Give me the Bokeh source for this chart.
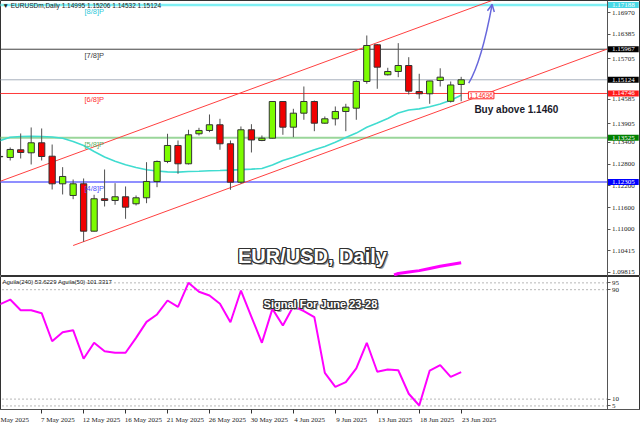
import numpy as np
from bokeh.plotting import figure
from bokeh.models import (ColumnDataSource, Range1d, FixedTicker, Label,
                          Arrow, OpenHead, NumeralTickFormatter)
from bokeh.layouts import column
from bokeh.embed import file_html
from bokeh.resources import INLINE

# ---------------- data ----------------
bars = list(range(45))
opens = [1.13000, 1.12981, 1.13193, 1.13110, 1.13386, 1.13016, 1.12255, 1.11933, 1.12255, 1.10948,
         1.11842, 1.11795, 1.11897, 1.11704, 1.11869, 1.12319, 1.12871, 1.13312, 1.12807, 1.13635,
         1.13726, 1.13883, 1.13359, 1.12300, 1.13745, 1.13450, 1.13513, 1.14525, 1.13817, 1.14203,
         1.14525, 1.13927, 1.14048, 1.14250, 1.14341, 1.15077, 1.16089, 1.15262, 1.15353, 1.15518,
         1.14801, 1.14738, 1.15105, 1.14531, 1.14995]
highs = [1.13050, 1.13257, 1.13643, 1.13809, 1.13781, 1.13339, 1.12714, 1.12374, 1.12402, 1.11952,
         1.12650, 1.12272, 1.12181, 1.11933, 1.12851, 1.12898, 1.13635, 1.13450, 1.13745, 1.13800,
         1.14167, 1.14048, 1.13450, 1.13836, 1.13899, 1.13588, 1.14530, 1.14530, 1.14324, 1.14939,
         1.14553, 1.14112, 1.14388, 1.14462, 1.15105, 1.16346, 1.16110, 1.15455, 1.16134, 1.15747,
         1.15290, 1.15095, 1.15441, 1.15077, 1.15206]
lows = [1.12980, 1.12898, 1.12953, 1.12788, 1.12898, 1.12098, 1.11961, 1.11831, 1.10655, 1.10940,
        1.11629, 1.11676, 1.11290, 1.11657, 1.11720, 1.12162, 1.12824, 1.12531, 1.12788, 1.13588,
        1.13679, 1.13193, 1.12090, 1.12255, 1.13119, 1.13430, 1.13505, 1.13607, 1.13541, 1.14021,
        1.13706, 1.13910, 1.13864, 1.13706, 1.14021, 1.15014, 1.14876, 1.15243, 1.15196, 1.14719,
        1.14600, 1.14462, 1.14939, 1.14498, 1.14532]
closes = [1.13010, 1.13202, 1.13119, 1.13386, 1.13008, 1.12255, 1.12457, 1.12255, 1.10948, 1.11842,
          1.11795, 1.11897, 1.11610, 1.11869, 1.12319, 1.12871, 1.13312, 1.12807, 1.13607, 1.13726,
          1.13883, 1.13359, 1.12300, 1.13745, 1.13464, 1.13513, 1.14525, 1.13817, 1.14203, 1.14525,
          1.13927, 1.14048, 1.14250, 1.14368, 1.15077, 1.16070, 1.15472, 1.15353, 1.15518, 1.14810,
          1.14738, 1.15091, 1.15196, 1.14981, 1.15124]
ma_values = [1.13444, 1.13538, 1.13560, 1.13568, 1.13560, 1.13544, 1.13511, 1.13422, 1.13312, 1.13147,
             1.12995, 1.12876, 1.12780, 1.12705, 1.12642, 1.12609, 1.12584, 1.12576, 1.12595, 1.12603,
             1.12614, 1.12622, 1.12633, 1.12647, 1.12661, 1.12677, 1.12774, 1.12898, 1.12986, 1.13091,
             1.13193, 1.13284, 1.13400, 1.13530, 1.13654, 1.13814, 1.13932, 1.14057, 1.14208, 1.14291,
             1.14321, 1.14382, 1.14457, 1.14560, 1.14696]
aguila240 = [79.2, 82.8, 75.0, 75.0, 72.8, 52.3, 58.9, 60.4, 39.5, 51.2,
             45.0, 43.9, 43.9, 54.8, 66.5, 71.9, 82.1, 77.5, 95.0, 88.5,
             85.8, 79.7, 66.2, 89.4, 70.2, 51.2, 76.0, 63.8, 77.9, 74.3,
             69.9, 29.2, 19.0, 22.4, 32.4, 51.2, 30.0, 31.6, 31.1, 13.9,
             5.3, 30.9, 34.8, 26.3, 29.7]
aguila50_bars = [37.6, 38, 39, 40, 41, 42, 43, 44]
aguila50_prices = [1.0974, 1.0978, 1.0982, 1.0986, 1.0992, 1.0998, 1.1003, 1.1008]

tick_bars = [0, 4, 8, 12, 16, 20, 24, 28, 32, 36, 40, 44]
tick_labels = ["May 2025", "7 May 2025", "12 May 2025", "16 May 2025", "21 May 2025",
               "26 May 2025", "30 May 2025", "4 Jun 2025", "9 Jun 2025", "13 Jun 2025",
               "18 Jun 2025", "23 Jun 2025"]

price_ticks = [1.09815, 1.10415, 1.11000, 1.11600, 1.12200, 1.12800, 1.13400, 1.13905,
               1.14585, 1.15705, 1.16385, 1.16970]
indicator_ticks = [5, 10, 90, 95]

level_names = ["[8/8]P", "[7/8]P", "[6/8]P", "[5/8]P", "[4/8]P"]
level_prices = [1.17188, 1.15967, 1.14746, 1.13525, 1.12305]
current_price = 1.15124

lower_channel_x = [7, 25]
lower_channel_y = [1.10553, 1.12468]
upper_channel_x = [0, 21]
upper_channel_y = [1.12319, 1.14553]

arrow_start = (44.72, 1.15030)
arrow_ctrl = (45.95, 1.15620)
arrow_end = (46.95, 1.17201)

title_text = "EUR/USD, Daily"
signal_text = "Signal For June 23-28"
buy_text = "Buy above 1.1460"
buy_pos = (45.26, 1.14297)
title_pos = (29.82, 1.10250)
signal_pos = (30.58, 79.9)
ind_text = "Aguila(240) 53.6229  Aguila(50) 101.3317"

# ---------------- styles / geometry ----------------
SERIF = "Liberation Serif"
SANS = "Liberation Sans"
GREEN = "#7cfc00"
RED = "#f00000"
level_line_colors = ["#7ff0f4", "#404040", "#ff3a3a", "#9ad69a", "#6a6aff"]
level_text_colors = ["#30c8d8", "#404040", "#ff3030", "#60b060", "#5050ff"]
level_widths = [2.5, 1, 1, 2, 1.5]
tag_colors = ["#48d8e6", "#000000", "#000000", "#ff1a1a", "#008000", "#0000ff"]

W = 640
BAR_STEP = 10.488                  # bar spacing of the terminal chart (px)
X0 = 0.79 / BAR_STEP               # chart left edge (bar units)
X_END = 640.79 / BAR_STEP          # chart right edge (bar units)
AXIS_X = 607.29 / BAR_STEP         # price-scale position (bar units)
x_range = Range1d(X0, X_END)

Y_TOP = 1.17311
PRICE_PER_PX = 0.00027583
H1 = 276
y1_range = Range1d(Y_TOP - H1 * PRICE_PER_PX, Y_TOP)

p1 = figure(width=W, height=H1, x_range=x_range, y_range=y1_range,
            output_backend="svg", toolbar_location=None, x_axis_location=None,
            y_axis_location="right", min_border_left=0, min_border_right=0,
            min_border_top=0, min_border_bottom=0)
p2 = figure(width=W, height=150, x_range=x_range, y_range=Range1d(2.4, 99.65),
            output_backend="svg", toolbar_location=None, y_axis_location="right",
            min_border_left=0, min_border_right=0, min_border_top=0, min_border_bottom=17)

for p in (p1, p2):
    p.background_fill_color = "white"
    p.border_fill_color = "white"
    p.outline_line_color = "#333333"
    p.outline_line_width = 1
    p.xgrid.visible = False
    p.ygrid.visible = False
    p.yaxis.fixed_location = AXIS_X
    p.yaxis.axis_line_color = "#555555"
    p.yaxis.major_tick_line_color = "#555555"
    p.yaxis.major_tick_in = 0
    p.yaxis.major_tick_out = 3
    p.yaxis.minor_tick_line_color = None
    p.yaxis.major_label_text_font = SERIF
    p.yaxis.major_label_text_font_size = "7px"
    p.yaxis.major_label_text_color = "#222222"
    p.yaxis.major_label_standoff = 2

p1.yaxis.ticker = FixedTicker(ticks=price_ticks)
p1.yaxis.formatter = NumeralTickFormatter(format="0.00000")
p2.yaxis.ticker = FixedTicker(ticks=indicator_ticks)

# x axis: labels start right after their tick, as the terminal draws them
label_start = [max(b, X0 + 0.1) for b in tick_bars]
label_pos = [s + 0.155 * len(t) for s, t in zip(label_start, tick_labels)]
p2.xaxis.ticker = FixedTicker(ticks=label_pos, minor_ticks=tick_bars)
p2.xaxis.major_label_overrides = {lp: t for lp, t in zip(label_pos, tick_labels)}
p2.xaxis.major_tick_line_color = None
p2.xaxis.major_tick_out = 0
p2.xaxis.major_tick_in = 0
p2.xaxis.minor_tick_line_color = "#333333"
p2.xaxis.minor_tick_in = 0
p2.xaxis.minor_tick_out = 4
p2.xaxis.axis_line_color = "#555555"
p2.xaxis.major_label_text_font = SERIF
p2.xaxis.major_label_text_font_size = "7px"
p2.xaxis.major_label_text_color = "#222222"
p2.xaxis.major_label_standoff = 2

# ---------------- main panel ----------------
lev = ColumnDataSource(dict(y=level_prices, c=level_line_colors, w=level_widths))
p1.segment(x0=X0 - 1, x1=AXIS_X, y0="y", y1="y", line_color="c", line_width="w", source=lev)
p1.segment(x0=[X0 - 1], x1=[AXIS_X], y0=[current_price], y1=[current_price],
           line_color="#a8b0bc", line_width=1)

for name, pr, tc in zip(level_names, level_prices, level_text_colors):
    p1.add_layout(Label(x=8.08, y=pr, y_offset=-2, text=name, text_font=SANS,
                        text_font_size="7.5px", text_color=tc, text_baseline="top"))

# channel lines (rays to the price scale)
ls = (lower_channel_y[1] - lower_channel_y[0]) / (lower_channel_x[1] - lower_channel_x[0])
us = (upper_channel_y[1] - upper_channel_y[0]) / (upper_channel_x[1] - upper_channel_x[0])
p1.line([lower_channel_x[0], AXIS_X],
        [lower_channel_y[0], lower_channel_y[0] + ls * (AXIS_X - lower_channel_x[0])],
        line_color="#ff4040", line_width=1)
ux = np.array([-3.0, upper_channel_x[0] + (Y_TOP + 0.002 - upper_channel_y[0]) / us])
p1.line(list(ux), list(upper_channel_y[0] + us * (ux - upper_channel_x[0])),
        line_color="#ff4040", line_width=1)

# moving average
p1.line(bars, ma_values, line_color="#40dcd0", line_width=1.6)

# candles
o = np.array(opens); c = np.array(closes)
src = ColumnDataSource(dict(
    x=bars, high=highs, low=lows,
    top=np.maximum(o, c), bottom=np.minimum(o, c),
    color=[GREEN if cc >= oo else RED for oo, cc in zip(opens, closes)]))
p1.segment(x0="x", y0="high", x1="x", y1="low", source=src, line_color="#505050", line_width=1)
p1.vbar(x="x", width=0.6, top="top", bottom="bottom", fill_color="color",
        line_color="#333333", line_width=1, source=src)

# second indicator line overflowing into the price panel
p1.line(aguila50_bars, aguila50_prices, line_color="#ff00ff", line_width=3)

# projected arrow
p1.quadratic(x0=[arrow_start[0]], y0=[arrow_start[1]], x1=[arrow_end[0]], y1=[arrow_end[1]],
             cx=[arrow_ctrl[0]], cy=[arrow_ctrl[1]], line_color="#6868dc", line_width=1.5)
p1.add_layout(Arrow(end=OpenHead(size=7, line_color="#6868dc", line_width=1.5),
                    x_start=arrow_end[0] - 0.05 * (arrow_end[0] - arrow_ctrl[0]),
                    y_start=arrow_end[1] - 0.05 * (arrow_end[1] - arrow_ctrl[1]),
                    x_end=arrow_end[0], y_end=arrow_end[1],
                    line_color="#6868dc", line_width=1.5))

# ma value box
p1.add_layout(Label(x=44.69, y=ma_values[-1], text=f"{ma_values[-1]:.5f}", text_font=SANS,
                    text_font_size="6.5px", text_color="#ff2020", text_baseline="middle",
                    background_fill_color="white", border_line_color="#ff2020",
                    border_line_width=1, padding=1))

# buy text
p1.add_layout(Label(x=buy_pos[0], y=buy_pos[1], text=buy_text, text_font=SANS,
                    text_font_size="10px", text_font_style="bold", text_color="#1a1a2a",
                    text_baseline="alphabetic"))

# outlined titles
def outlined(p, x, y, text, size):
    offs = [(2, -2)] + [(dx, dy) for dx in (-1, 0, 1) for dy in (-1, 0, 1) if (dx, dy) != (0, 0)]
    for i, (dx, dy) in enumerate(offs):
        p.add_layout(Label(x=x, y=y, x_offset=dx, y_offset=dy, text=text, text_font=SANS,
                           text_font_size=size, text_font_style="bold",
                           text_color="#9a9a9a" if i == 0 else "#303030",
                           text_align="center", text_baseline="alphabetic"))
    p.add_layout(Label(x=x, y=y, text=text, text_font=SANS, text_font_size=size,
                       text_font_style="bold", text_color="white", text_align="center",
                       text_baseline="alphabetic"))

outlined(p1, title_pos[0], title_pos[1], title_text, "20px")
outlined(p2, signal_pos[0], signal_pos[1], signal_text, "11px")

# top info line
p1.add_layout(Label(x=X0, y=Y_TOP, x_offset=2, y_offset=-1,
                    text=f"\u25bc EURUSDm,Daily  {opens[-1]:.5f} {highs[-1]:.5f} {lows[-1]:.5f} {closes[-1]:.5f}",
                    text_font=SANS, text_font_size="6.5px", text_color="#222222",
                    text_baseline="top"))

# price tags on the price scale
tag_prices = [level_prices[0], level_prices[1], current_price, level_prices[2],
              level_prices[3], level_prices[4]]
for pr, bg in zip(tag_prices, tag_colors):
    p1.add_layout(Label(x=AXIS_X, y=pr, x_offset=1, text=f"{pr:.5f}", text_font=SERIF,
                        text_font_size="7px", text_color="white", text_baseline="middle",
                        background_fill_color=bg, padding=(4, 1)))

# ---------------- indicator panel ----------------
p2.segment(x0=X0 - 1, x1=AXIS_X, y0=indicator_ticks, y1=indicator_ticks,
           line_color="#b8b8b8", line_width=1, line_dash="2 2")
p2.line(bars, aguila240, line_color="#ff00ff", line_width=2)
p2.add_layout(Label(x=X0, y=99.65, x_offset=2, y_offset=-2, text=ind_text,
                    text_font=SANS, text_font_size="6px", text_color="#222222",
                    text_baseline="top"))

layout = column(p1, p2, spacing=0)
open("out.html", "w").write(file_html(layout, INLINE))
